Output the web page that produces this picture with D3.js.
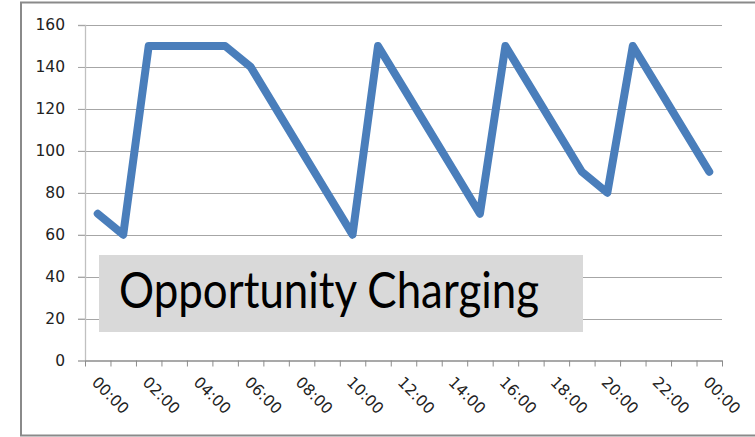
<!DOCTYPE html>
<html>
<head>
<meta charset="utf-8">
<script src="https://cdn.jsdelivr.net/npm/d3@7"></script>
<style>
  body { margin: 0; background: #fff; }
  .tick text { font-family: "DejaVu Sans", sans-serif; font-size: 15.5px; fill: #222; }
</style>
</head>
<body>
<div id="chart"></div>
<script>
// hourly categories (last one wraps round to midnight)
var hours = ["00:00","01:00","02:00","03:00","04:00","05:00","06:00","07:00","08:00","09:00",
             "10:00","11:00","12:00","13:00","14:00","15:00","16:00","17:00","18:00","19:00",
             "20:00","21:00","22:00","23:00","00:00"];
var charge = [70, 60, 150, 150, 150, 150, 140, 120, 100, 80, 60, 150, 130, 110, 90,
              70, 150, 130, 110, 90, 80, 150, 130, 110, 90];
var yTicks = [0, 20, 40, 60, 80, 100, 120, 140, 160];
var boxLabel = "Opportunity Charging";

let svg = d3.select('#chart').append('svg')
  .attr('width', 755)
  .attr('height', 437);

// outer frame (right edge is cut off)
svg.append('path')
  .attr('d', 'M755,2.5 H21 V435.5 H755')
  .attr('fill', 'none')
  .attr('stroke', '#8a8a8a')
  .attr('stroke-width', 2);

let plotL = 85, plotR = 722, plotT = 25, plotB = 360.5;

let xScale = d3.scaleBand().domain(d3.range(hours.length)).range([plotL, plotR]);
let xEdges = d3.scaleLinear().domain([0, hours.length]).range([plotL, plotR]);
let yScale = d3.scaleLinear().domain([0, 160]).range([plotB, plotT]);

// gridlines
svg.append('g').attr('class', 'grid')
  .selectAll('line').data(yTicks.filter(d => d > 0)).enter()
  .append('line')
  .attr('x1', plotL - 7)
  .attr('x2', plotR)
  .attr('y1', d => Math.round(yScale(d)) + 0.5)
  .attr('y2', d => Math.round(yScale(d)) + 0.5)
  .attr('stroke', '#a6a6a6')
  .attr('stroke-width', 1.2);

// y axis
let yAxis = d3.axisLeft(yScale).tickValues(yTicks).tickSize(7).tickPadding(13);
let y = svg.append('g').attr('class', 'yAxis')
  .attr('transform', 'translate(' + plotL + ',0)');
y.call(yAxis);
y.select('.domain').attr('stroke', '#c0c0c0').attr('stroke-width', 1.3);
y.selectAll('.tick line').attr('stroke', '#a6a6a6');

// x axis: ticks between categories
let xAxis = d3.axisBottom(xEdges).tickValues(d3.range(hours.length + 1))
  .tickFormat('').tickSize(6).tickSizeOuter(0);
let x = svg.append('g').attr('class', 'xAxis')
  .attr('transform', 'translate(0,' + plotB + ')');
x.call(xAxis);
x.select('.domain').attr('stroke', '#8c8c8c').attr('stroke-width', 1.3);
x.selectAll('.tick line').attr('stroke', '#8c8c8c');

// rotated category labels, every second hour
svg.append('g').attr('class', 'x-labels')
  .selectAll('text').data(hours.map((h, i) => ({h: h, i: i})).filter(d => d.i % 2 === 0))
  .enter().append('text')
  .attr('transform', d => 'translate(' + (xScale(d.i) + xScale.bandwidth() / 2 - 3) + ',' + (plotB + 19) + ') rotate(45)')
  .attr('dy', '0.35em')
  .style('font-family', '"DejaVu Sans", sans-serif')
  .style('font-size', '15.5px')
  .attr('fill', '#222')
  .text(d => d.h);

// label box
svg.append('rect')
  .attr('x', 99).attr('y', 255)
  .attr('width', 484).attr('height', 77)
  .attr('fill', '#d9d9d9');
svg.append('text')
  .attr('x', 119).attr('y', 308)
  .attr('textLength', 420)
  .attr('lengthAdjust', 'spacingAndGlyphs')
  .style('font-family', 'Lato, sans-serif')
  .style('font-size', '50px')
  .attr('fill', '#000')
  .text(boxLabel);

// line
let line = d3.line()
  .x((d, i) => xScale(i) + xScale.bandwidth() / 2)
  .y(d => yScale(d));
svg.append('path')
  .datum(charge)
  .attr('d', line)
  .attr('fill', 'none')
  .attr('stroke', '#4a7ebb')
  .attr('stroke-width', 8)
  .attr('stroke-linejoin', 'round')
  .attr('stroke-linecap', 'round');
</script>
</body>
</html>
